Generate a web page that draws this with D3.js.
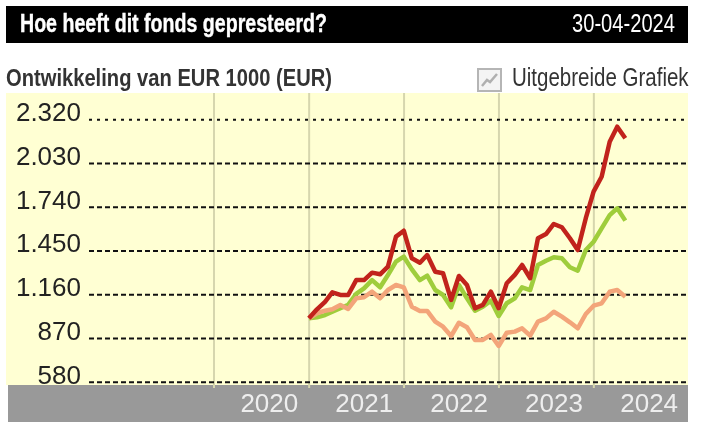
<!DOCTYPE html>
<html>
<head>
<meta charset="utf-8">
<script src="https://cdn.jsdelivr.net/npm/d3@7"></script>
<style>
html, body { margin: 0; padding: 0; background: #fff; }
svg { display: block; filter: blur(0.35px); }
</style>
</head>
<body>
<div id="chart"></div>
<script>
'use strict';
const yTicks = [580, 870, 1160, 1450, 1740, 2030, 2320];
const years = [2020, 2021, 2022, 2023, 2024];
const firstMonth = new Date(Date.UTC(2020, 11, 31));

// monthly values (dec 2020 - apr 2024)
const fondsValues = [1000, 1060, 1110, 1173, 1155, 1155, 1254, 1254, 1303, 1292, 1343, 1542, 1581, 1398, 1369, 1420, 1309, 1299, 1122, 1281, 1221, 1067, 1089, 1177, 1067, 1233, 1288, 1354, 1266, 1531, 1559, 1626, 1604, 1531, 1453, 1664, 1840, 1939, 2171, 2271, 2194];
const indexValues = [1000, 1007, 1022, 1044, 1067, 1089, 1162, 1199, 1254, 1206, 1288, 1376, 1409, 1325, 1254, 1283, 1188, 1155, 1073, 1221, 1133, 1051, 1077, 1117, 1016, 1100, 1133, 1206, 1188, 1354, 1382, 1405, 1398, 1339, 1316, 1453, 1508, 1597, 1685, 1730, 1648];
const categoryValues = [1000, 1034, 1051, 1060, 1089, 1062, 1133, 1140, 1177, 1133, 1188, 1221, 1206, 1077, 1049, 1049, 978, 945, 883, 971, 941, 857, 857, 890, 817, 905, 912, 934, 885, 978, 1000, 1044, 1011, 974, 934, 1029, 1084, 1100, 1177, 1188, 1144];

const width = 718, height = 432;
const sans = "'Liberation Sans', Arial, sans-serif";
const narrow = "'Liberation Sans Narrow', 'Liberation Sans', Arial, sans-serif";

const svg = d3.select("#chart").append("svg")
  .attr("width", width)
  .attr("height", height);

// header bar
svg.append("rect").attr("x", 6).attr("y", 6).attr("width", 682).attr("height", 37).attr("fill", "#000");
svg.append("text").attr("x", 20).attr("y", 32)
  .attr("textLength", 307).attr("lengthAdjust", "spacingAndGlyphs")
  .style("font", "bold 26px " + narrow).attr("fill", "#fff")
  .attr("stroke", "#fff").attr("stroke-width", 0.4)
  .text("Hoe heeft dit fonds gepresteerd?");
svg.append("text").attr("x", 675).attr("y", 32).attr("text-anchor", "end")
  .attr("textLength", 103).attr("lengthAdjust", "spacingAndGlyphs")
  .style("font", "26px " + narrow).attr("fill", "#fff")
  .text("30-04-2024");

// plot background and the grey year band
svg.append("rect").attr("x", 6).attr("y", 93).attr("width", 682).attr("height", 292).attr("fill", "#ffffd3");
svg.append("rect").attr("x", 8).attr("y", 385).attr("width", 680).attr("height", 37).attr("fill", "#999");

// sub header, after the background so the descenders stay whole
svg.append("text").attr("x", 6).attr("y", 86)
  .attr("textLength", 326).attr("lengthAdjust", "spacingAndGlyphs")
  .style("font", "bold 24px " + narrow).attr("fill", "#333")
  .text("Ontwikkeling van EUR 1000 (EUR)");
// squeezed with a transform, textLength leaves the box too wide for the page
svg.append("text").attr("transform", "translate(512,86) scale(0.82,1)")
  .style("font", "25px " + sans).attr("fill", "#333")
  .text("Uitgebreide Grafiek");

// small chart icon
const icon = svg.append("g").attr("transform", "translate(477,68)");
icon.append("rect").attr("x", 1).attr("y", 1).attr("width", 23).attr("height", 22)
  .attr("fill", "#f4f4f4").attr("stroke", "#b5b5b5").attr("stroke-width", 2);
icon.append("path").attr("d", "M5 18L10 12L13 14L20 6")
  .attr("fill", "none").attr("stroke", "#b0b0b0").attr("stroke-width", 2.5);

const x = d3.scaleUtc()
  .domain([new Date(Date.UTC(2020, 0, 1)), new Date(Date.UTC(2025, 0, 1))])
  .range([214, 689]);
const y = d3.scaleLinear().domain([580, 2320]).range([381.7, 119.3]);

// vertical year lines
svg.append("g").selectAll("line")
  .data(years)
  .join("line")
  .attr("x1", d => x(new Date(Date.UTC(d, 0, 1))))
  .attr("x2", d => x(new Date(Date.UTC(d, 0, 1))))
  .attr("y1", 93)
  .attr("y2", 388)
  .attr("stroke", "#d6d6ae")
  .attr("stroke-width", 2);

// y axis, its tick lines are the dashed grid
const nlFormat = d3.formatLocale({decimal: ",", thousands: ".", grouping: [3], currency: ["€", ""]}).format(",d");
const yAxis = svg.append("g")
  .attr("transform", "translate(89,0)")
  .call(d3.axisLeft(y).tickValues(yTicks).tickFormat(nlFormat).tickSize(-597).tickPadding(8));
yAxis.select(".domain").remove();
yAxis.selectAll("line")
  .attr("stroke", "#111")
  .attr("stroke-width", 2)
  .attr("stroke-dasharray", d => d === 2320 ? "3 5" : "5 3");
yAxis.selectAll("text")
  .attr("dy", "0.05em")
  .style("font", "26px " + sans)
  .attr("fill", "#222");

// year labels
svg.append("g").selectAll("text")
  .data(years)
  .join("text")
  .attr("x", d => x(new Date(Date.UTC(d, 6, 1))) + 8)
  .attr("y", 412)
  .attr("text-anchor", "middle")
  .style("font", "26px " + sans)
  .attr("fill", "#eee")
  .text(d => d);

// lines
const line = d3.line()
  .x((d, i) => x(d3.utcMonth.offset(firstMonth, i)))
  .y(d => y(d));

const seriesList = [
  {values: indexValues, color: "#9fcd3c"},
  {values: categoryValues, color: "#f3a57a"},
  {values: fondsValues, color: "#c1231c"}
];
svg.append("g").selectAll("path")
  .data(seriesList)
  .join("path")
  .attr("d", d => line(d.values))
  .attr("fill", "none")
  .attr("stroke", d => d.color)
  .attr("stroke-width", 4.5)
  .attr("stroke-linejoin", "round");
</script>
</body>
</html>
